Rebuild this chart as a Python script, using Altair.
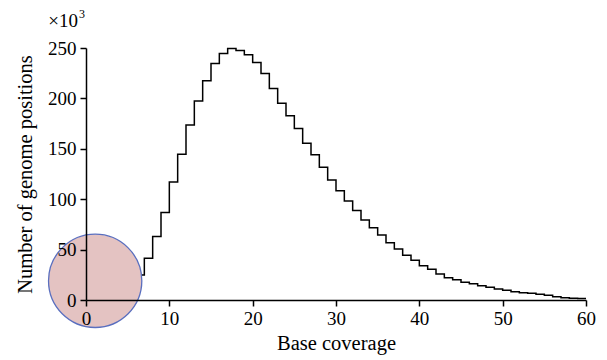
import altair as alt
import pandas as pd

# Base coverage bin starts (bins of width 1) and counts in thousands
coverage = list(range(6, 61))
counts_k = [24.8, 41.5, 63.0, 86.8, 117.0, 144.7, 173.5, 197.3, 217.5, 234.7,
            244.6, 249.6, 247.6, 243.3, 235.7, 224.8, 209.9, 195.3, 182.7, 170.1,
            155.6, 144.0, 131.8, 119.0, 108.4, 98.3, 88.7, 79.4, 71.8, 64.5,
            56.9, 50.6, 44.4, 39.4, 34.1, 30.5, 25.8, 22.1, 20.2, 17.6,
            16.2, 14.2, 12.6, 10.9, 9.6, 8.2, 7.2, 6.6, 5.6, 4.6,
            3.3, 2.3, 1.7, 1.5, 1.5]

x_ticks = [0, 10, 20, 30, 40, 50, 60]
y_ticks = [0, 50, 100, 150, 200, 250]

# highlight circle annotation (data-space centre)
circle_x = [1.1]
circle_y = [19.0]

FONT = "Liberation Serif"

df = pd.DataFrame({"coverage": coverage, "count": counts_k})
circ = pd.DataFrame({"coverage": circle_x, "count": circle_y})

xscale = alt.Scale(domain=[0, 60], nice=False, zero=False)
yscale = alt.Scale(domain=[0, 250], nice=False)

xaxis = alt.Axis(values=x_ticks, title="Base coverage", grid=False,
                 domainColor="black", domainWidth=1.5, tickColor="black",
                 tickWidth=1.5, tickSize=6, labelFont=FONT, labelFontSize=19,
                 labelColor="black", titleFont=FONT, titleFontSize=20.5,
                 titleFontWeight="normal", titleColor="black", labelPadding=3,
                 titlePadding=5, zindex=1, labelFlush=False)
yaxis = alt.Axis(values=y_ticks, title="Number of genome positions", grid=False,
                 domainColor="black", domainWidth=1.5, tickColor="black",
                 tickWidth=1.5, tickSize=6, labelFont=FONT, labelFontSize=19,
                 labelColor="black", titleFont=FONT, titleFontSize=20.5,
                 titleFontWeight="normal", titleColor="black", labelPadding=4,
                 titlePadding=12, zindex=1)

line = alt.Chart(df).mark_line(interpolate="step-after", color="black",
                               strokeWidth=1.5).encode(
    x=alt.X("coverage:Q", scale=xscale, axis=xaxis),
    y=alt.Y("count:Q", scale=yscale, axis=yaxis),
)

circle = alt.Chart(circ).mark_point(shape="circle", filled=False, size=8700,
                                    fill="#e4c3c2", fillOpacity=1,
                                    stroke="#5a6fbf", strokeWidth=1.3,
                                    opacity=1).encode(
    x=alt.X("coverage:Q", scale=xscale),
    y=alt.Y("count:Q", scale=yscale),
)

mult = alt.Chart(circ).mark_text(text="×10", font=FONT, fontSize=19,
                                 align="right", baseline="alphabetic",
                                 color="black").encode(
    x=alt.value(-8), y=alt.value(-21))
sup = alt.Chart(circ).mark_text(text="3", font=FONT, fontSize=12,
                                align="right", baseline="alphabetic",
                                color="black").encode(
    x=alt.value(-1), y=alt.value(-30))

chart = alt.layer(line, circle, mult, sup).properties(
    width=500, height=252,
    autosize=alt.AutoSizeParams(type="none"),
    padding={"left": 78, "top": 40, "right": 13, "bottom": 60},
).configure_view(stroke=None)

chart.save("out.html", embed_options={"renderer": "svg", "actions": False})
